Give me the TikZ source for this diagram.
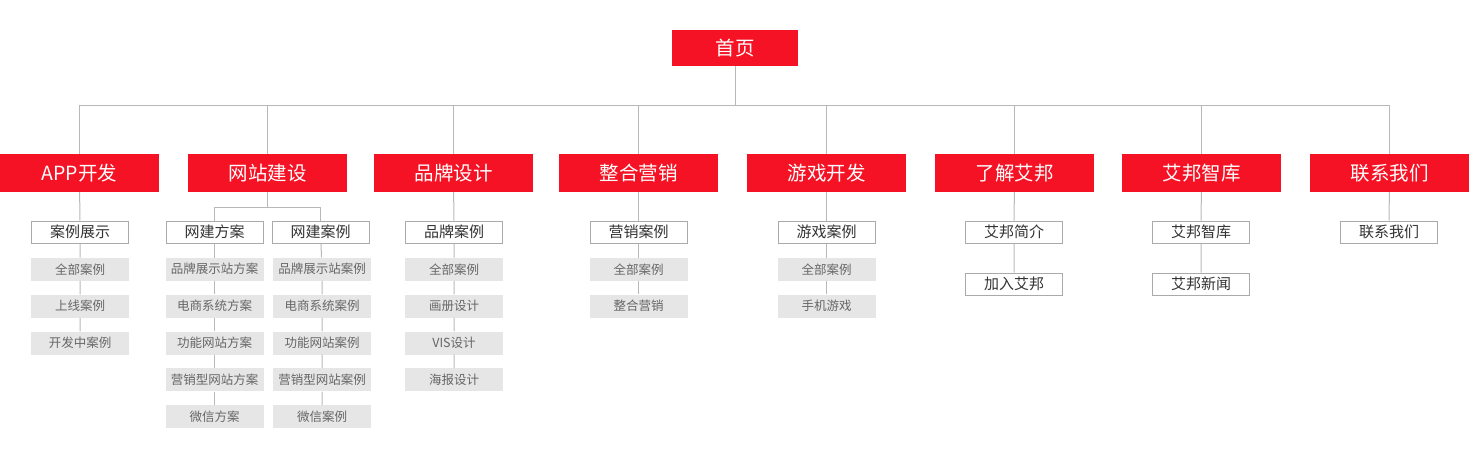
\documentclass[tikz,border=0pt]{standalone}
\usepackage{fontspec}
\setmainfont{Noto Sans CJK SC}
\usepackage{xcolor}
\usetikzlibrary{positioning}

\definecolor{abred}{HTML}{F41224}
\definecolor{leafgrey}{HTML}{E6E6E6}
\definecolor{boxgrey}{HTML}{AAAAAA}
\definecolor{linegrey}{HTML}{B8B8B8}
\definecolor{textgrey}{HTML}{666666}
\definecolor{textdark}{HTML}{333333}

\tikzset{
	cat/.style={fill=abred, text=white, minimum width=159pt, minimum height=38pt, inner sep=0pt, font=\fontsize{19.5}{19.5}\selectfont},
	sub/.style={draw=boxgrey, line width=1pt, fill=white, text=textdark, minimum width=97pt, minimum height=22pt, inner sep=0pt, font=\fontsize{15}{15}\selectfont},
	leaf/.style={fill=leafgrey, text=textgrey, minimum width=98pt, minimum height=23pt, inner sep=0pt, font=\fontsize{12.5}{12.5}\selectfont},
	link/.style={draw=linegrey, line width=1pt}
}

\begin{document}
\begin{tikzpicture}[x=1pt, y=-1pt]
	\useasboundingbox (0,0) rectangle (1470,455);

	\node[cat, minimum width=126pt, minimum height=36pt] (home) at (735,48) {首页};
	\coordinate (bus) at (735,105);

	% first level
	\node[cat] (app) at (79.5,173) {APP开发};
	\node[cat] (web) at (267.5,173) {网站建设};
	\node[cat] (brand) at (453.5,173) {品牌设计};
	\node[cat] (mkt) at (638.5,173) {整合营销};
	\node[cat] (game) at (826.5,173) {游戏开发};
	\node[cat] (about) at (1014.5,173) {了解艾邦};
	\node[cat] (think) at (1201.5,173) {艾邦智库};
	\node[cat] (contact) at (1389.5,173) {联系我们};

	% APP
	\node[sub] (appshow) at (80,232) {案例展示};
	\node[leaf, below=14pt of appshow] (appall) {全部案例};
	\node[leaf, below=13.5pt of appall] (appon) {上线案例};
	\node[leaf, below=13.5pt of appon] (appdev) {开发中案例};

	% web
	\node[sub] (webplan) at (214.5,232) {网建方案};
	\node[leaf, below=14pt of webplan] (plana) {品牌展示站方案};
	\node[leaf, below=13.5pt of plana] (planb) {电商系统方案};
	\node[leaf, below=13.5pt of planb] (planc) {功能网站方案};
	\node[leaf, below=13.5pt of planc] (pland) {营销型网站方案};
	\node[leaf, below=13.5pt of pland] (plane) {微信方案};
	\node[sub] (webcase) at (320.5,232) {网建案例};
	\node[leaf, below=14pt of webcase, xshift=1.5pt] (casea) {品牌展示站案例};
	\node[leaf, below=13.5pt of casea] (caseb) {电商系统案例};
	\node[leaf, below=13.5pt of caseb] (casec) {功能网站案例};
	\node[leaf, below=13.5pt of casec] (cased) {营销型网站案例};
	\node[leaf, below=13.5pt of cased] (casee) {微信案例};

	% brand
	\node[sub] (brandcase) at (454,232) {品牌案例};
	\node[leaf, below=14pt of brandcase] (branda) {全部案例};
	\node[leaf, below=13.5pt of branda] (brandb) {画册设计};
	\node[leaf, below=13.5pt of brandb] (brandc) {VIS设计};
	\node[leaf, below=13.5pt of brandc] (brandd) {海报设计};

	% marketing
	\node[sub] (mktcase) at (638.5,232) {营销案例};
	\node[leaf, below=14pt of mktcase] (mkta) {全部案例};
	\node[leaf, below=13.5pt of mkta] (mktb) {整合营销};

	% game
	\node[sub] (gamecase) at (826.5,232) {游戏案例};
	\node[leaf, below=14pt of gamecase] (gamea) {全部案例};
	\node[leaf, below=13.5pt of gamea] (gameb) {手机游戏};

	% about / think / contact
	\node[sub] (intro) at (1014,232) {艾邦简介};
	\node[sub, below=29pt of intro] (join) {加入艾邦};
	\node[sub] (thinksub) at (1201,232) {艾邦智库};
	\node[sub, below=29pt of thinksub] (news) {艾邦新闻};
	\node[sub] (contactsub) at (1389,232) {联系我们};

	% connectors
	\draw[link] (home) -- (bus);
	\foreach \c in {app,web,brand,mkt,game,about,think,contact}
		\draw[link] (\c) |- (bus);

	\draw[link] (app) -- (appshow) -- (appall) -- (appon) -- (appdev);
	\draw[link] (web.south) -- ++(0,15) -| (webplan);
	\draw[link] (web.south) -- ++(0,15) -| (webcase);
	\draw[link] (webplan) -- (plana) -- (planb) -- (planc) -- (pland) -- (plane);
	\draw[link] (webcase) -- (casea) -- (caseb) -- (casec) -- (cased) -- (casee);
	\draw[link] (brand) -- (brandcase) -- (branda) -- (brandb) -- (brandc) -- (brandd);
	\draw[link] (mkt) -- (mktcase) -- (mkta) -- (mktb);
	\draw[link] (game) -- (gamecase) -- (gamea) -- (gameb);
	\draw[link] (about) -- (intro) -- (join);
	\draw[link] (think) -- (thinksub) -- (news);
	\draw[link] (contact) -- (contactsub);
\end{tikzpicture}
\end{document}
